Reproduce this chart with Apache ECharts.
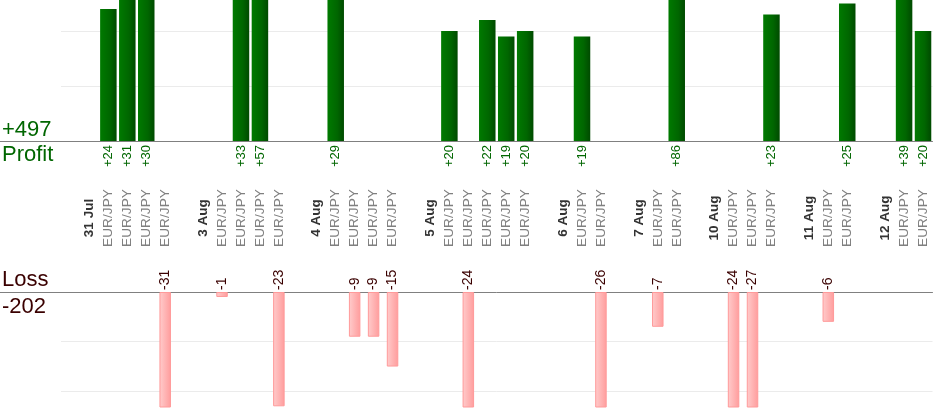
<!DOCTYPE html>
<html>
<head>
<meta charset="utf-8">
<script src="https://cdn.jsdelivr.net/npm/echarts@6/dist/echarts.min.js"></script>
<style>
  html, body { margin: 0; padding: 0; background: #fff; }
  #chart { width: 934px; height: 420px; }
</style>
</head>
<body>
<div id="chart"></div>
<script>
// one slot per day heading / trade, with an empty slot between days
const categories = [
  '', '31 Jul', 'EUR/JPY', 'EUR/JPY', 'EUR/JPY', 'EUR/JPY',
  '', '3 Aug', 'EUR/JPY', 'EUR/JPY', 'EUR/JPY', 'EUR/JPY',
  '', '4 Aug', 'EUR/JPY', 'EUR/JPY', 'EUR/JPY', 'EUR/JPY',
  '', '5 Aug', 'EUR/JPY', 'EUR/JPY', 'EUR/JPY', 'EUR/JPY', 'EUR/JPY',
  '', '6 Aug', 'EUR/JPY', 'EUR/JPY',
  '', '7 Aug', 'EUR/JPY', 'EUR/JPY',
  '', '10 Aug', 'EUR/JPY', 'EUR/JPY', 'EUR/JPY',
  '', '11 Aug', 'EUR/JPY', 'EUR/JPY',
  '', '12 Aug', 'EUR/JPY', 'EUR/JPY'
];
const profit = [
  null, null, 24, 31, 30, null,
  null, null, null, 33, 57, null,
  null, null, 29, null, null, null,
  null, null, 20, null, 22, 19, 20,
  null, null, 19, null,
  null, null, null, 86,
  null, null, null, null, 23,
  null, null, null, 25,
  null, null, 39, 20
];
const loss = [
  null, null, null, null, null, -31,
  null, null, -1, null, null, -23,
  null, null, null, -9, -9, -15,
  null, null, null, -24, null, null, null,
  null, null, null, -26,
  null, null, -7, null,
  null, null, -24, -27, null,
  null, null, -6, null,
  null, null, null, null
];
const profitTotal = '+497';
const lossTotal = '-202';

const FONT = 'Liberation Sans, Arial, sans-serif';
const GREEN = '#006600';
const BROWN = '#3a0000';

const chart = echarts.init(document.getElementById('chart'));

chart.setOption({
  animation: false,
  grid: [
    { left: 61, right: 1.5, top: 0, height: 141 },
    { left: 61, right: 1.5, top: 292, height: 115 }
  ],
  xAxis: [
    {
      gridIndex: 0, type: 'category', data: categories, position: 'bottom',
      axisLine: { lineStyle: { color: '#808080' } },
      axisTick: { show: false },
      axisLabel: {
        interval: 0, rotate: 90, margin: 4,
        fontFamily: FONT, fontSize: 13, color: GREEN,
        formatter: (v, i) => profit[i] == null ? '' : '+' + profit[i]
      }
    },
    {
      gridIndex: 0, type: 'category', data: categories, position: 'bottom',
      axisLine: { show: false },
      axisTick: { show: false },
      axisLabel: {
        interval: 0, rotate: 90, margin: 77, align: 'center', verticalAlign: 'middle',
        formatter: v => v === '' ? '' : (v === 'EUR/JPY' ? '{p|' + v + '}' : '{d|' + v + '}'),
        rich: {
          p: { fontFamily: FONT, fontSize: 13.7, color: '#808080' },
          d: { fontFamily: FONT, fontSize: 13.5, fontWeight: 'bold', color: '#333333' }
        }
      }
    },
    {
      gridIndex: 1, type: 'category', data: categories, position: 'top',
      axisLine: { lineStyle: { color: '#808080' } },
      axisTick: { show: false },
      axisLabel: {
        interval: 0, rotate: 90, margin: 2,
        fontFamily: FONT, fontSize: 14, color: BROWN,
        formatter: (v, i) => loss[i] == null ? '' : String(loss[i])
      }
    }
  ],
  yAxis: [
    {
      gridIndex: 0, type: 'value', min: 0, max: 25.64, splitNumber: 2,
      axisLine: { show: false }, axisTick: { show: false }, axisLabel: { show: false },
      splitLine: { showMaxLine: false, lineStyle: { color: '#ebebeb' } }
    },
    {
      gridIndex: 1, type: 'value', min: -23.14, max: 0, splitNumber: 2,
      axisLine: { show: false }, axisTick: { show: false }, axisLabel: { show: false },
      splitLine: { showMinLine: false, lineStyle: { color: '#ebebeb' } }
    }
  ],
  series: [
    {
      type: 'bar', xAxisIndex: 0, yAxisIndex: 0, data: profit,
      barWidth: 16.5, clip: true,
      itemStyle: {
        color: new echarts.graphic.LinearGradient(0, 0, 1, 0, [
          { offset: 0, color: '#007a00' },
          { offset: 0.6, color: '#006600' },
          { offset: 1, color: '#004a00' }
        ])
      }
    },
    {
      type: 'bar', xAxisIndex: 2, yAxisIndex: 1, data: loss,
      barWidth: 11.5, clip: true,
      itemStyle: {
        borderColor: '#ff9a9a', borderWidth: 1,
        color: new echarts.graphic.LinearGradient(0, 0, 1, 0, [
          { offset: 0, color: '#ffcccc' },
          { offset: 1, color: '#ff9c9c' }
        ])
      }
    }
  ],
  graphic: [
    { type: 'line', shape: { x1: 0, y1: 141.5, x2: 61, y2: 141.5 }, style: { stroke: '#808080', lineWidth: 1 } },
    { type: 'line', shape: { x1: 0, y1: 292.5, x2: 61, y2: 292.5 }, style: { stroke: '#808080', lineWidth: 1 } },
    { type: 'text', left: 2, top: 119, style: { text: profitTotal, font: '22px ' + FONT, fill: GREEN } },
    { type: 'text', left: 2, top: 144, style: { text: 'Profit', font: '22px ' + FONT, fill: GREEN } },
    { type: 'text', left: 2, top: 269, style: { text: 'Loss', font: '22px ' + FONT, fill: BROWN } },
    { type: 'text', left: 2, top: 296, style: { text: lossTotal, font: '22px ' + FONT, fill: BROWN } }
  ]
});
</script>
</body>
</html>
